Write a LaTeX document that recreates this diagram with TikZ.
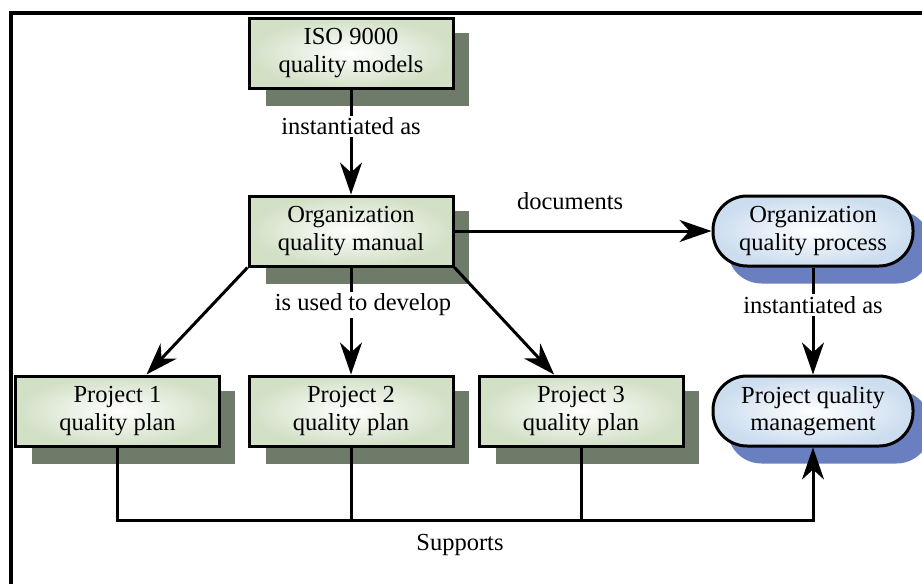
\documentclass[tikz,border=0pt]{standalone}
\usepackage{fontspec}
\setmainfont{Liberation Serif}
\usetikzlibrary{arrows.meta,calc,backgrounds}
\definecolor{boxg}{HTML}{D2E0C6}
\definecolor{shg}{HTML}{6E7B68}
\definecolor{boxb}{HTML}{CCDDEF}
\definecolor{shb}{HTML}{6A7FBF}
\begin{document}
\begin{tikzpicture}[x=1pt,y=-1pt,
  font=\fontsize{24.5}{27.5}\selectfont,
  gbox/.style={draw, line width=3pt, minimum width=204pt, minimum height=70pt,
    align=center, inner color=white, outer color=boxg, inner sep=0pt},
  bbox/.style={gbox, rounded corners=34pt, minimum width=200pt, outer color=boxb},
  arr/.style={line width=3pt, -{Stealth[length=32pt,width=22pt,inset=10pt]}},
  ln/.style={line width=3pt},
  lab/.style={fill=white, inner sep=2pt}]
\useasboundingbox (0,0) rectangle (922,584);
% frame
\draw[line width=3.5pt] (922,13) -- (11,13) -- (11,584);
% nodes
\node[gbox] (iso)  at (351,53)  {ISO 9000\\quality models};
\node[gbox] (man)  at (351,231) {Organization\\quality manual};
\node[gbox] (p1)   at (117.5,411) {Project 1\\quality plan};
\node[gbox] (p2)   at (351,411) {Project 2\\quality plan};
\node[gbox] (p3)   at (581,411) {Project 3\\quality plan};
\node[bbox] (proc) at (813,231) {Organization\\quality process};
\node[bbox] (pqm)  at (813,411) {Project quality\\management};
% shadows
\begin{scope}[on background layer]
  \foreach \n in {iso,man,p1,p2,p3}
    \fill[shg] ($(\n.north west)+(18,16)$) rectangle ($(\n.south east)+(14,16)$);
  \foreach \n in {proc,pqm}
    \fill[shb, rounded corners=34pt] ($(\n.north west)+(16,16)$) rectangle ($(\n.south east)+(16,16)$);
\end{scope}
% connectors
\draw[arr] (iso.south) -- node[lab, pos=0.35] {instantiated as} (man.north);
\draw[arr] (man.east) -- node[pos=0.45, yshift=30pt] {documents} (proc.west);
\draw[arr] (proc.south) -- node[lab, pos=0.35] {instantiated as} (pqm.north);
\draw[arr] (man.south west) -- ($(p1.north west)!0.64!(p1.north east)$);
\draw[arr] (man.south) -- node[lab, pos=0.35, xshift=12pt] {is used to develop} (p2.north);
\draw[arr] (man.south east) -- ($(p3.north west)!0.37!(p3.north east)$);
% supports bus
\coordinate (bus) at (813,520);
\draw[arr] (p1.south) |- (bus) -- (pqm.south);
\draw[ln] (p2.south) -- (p2.south |- bus);
\draw[ln] (p3.south) -- (p3.south |- bus);
\node (sup) at (460,545) {Supports};
\end{tikzpicture}
\end{document}
